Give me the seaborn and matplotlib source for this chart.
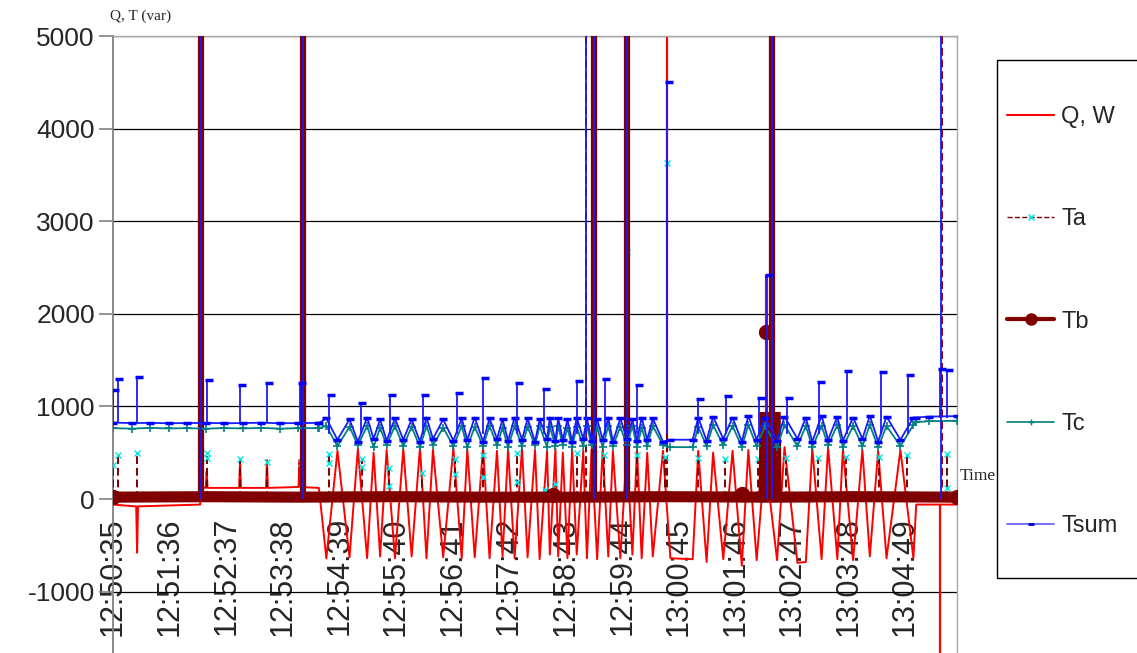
import matplotlib
matplotlib.use('Agg')
import matplotlib.pyplot as plt
from matplotlib.lines import Line2D
from matplotlib.patches import Rectangle
import seaborn as sns

# time in seconds from 12:50:35
tick_secs = [0, 61, 122, 183, 244, 305, 366, 427, 488, 549, 610, 671, 732, 793, 854]
tick_labels = ['12:50:35', '12:51:36', '12:52:37', '12:53:38', '12:54:39', '12:55:40',
               '12:56:41', '12:57:42', '12:58:43', '12:59:44', '13:00:45', '13:01:46',
               '13:02:47', '13:03:48', '13:04:49']

# quiet start (before the pump cycling)
t_pre = [0, 20, 40, 60, 80, 100, 120, 140, 160, 180, 200, 221]
tc_pre = [765, 760, 768, 762, 765, 760, 766, 762, 768, 760, 765, 765]
tsum_pre = [825, 820, 822, 818, 820, 822, 818, 820, 824, 818, 820, 822]

t_q_pre = [0, 25, 26, 27, 60, 94, 95, 100, 101, 102, 136, 137, 138, 165, 166, 167, 200, 201, 202, 221]
q_pre = [-60, -80, -580, -80, -70, -60, 130, 120, 300, 120, 120, 420, 120, 120, 420, 120, 130, 420, 130, 120]

# oscillating part: turning points of Q
t_osc = [222, 230, 242, 255, 264, 274, 281, 288, 295, 304, 313, 322, 331, 338, 345, 356, 367, 376, 382, 390,
         399, 406, 414, 420, 426, 433, 441, 447, 455, 460, 468, 471, 477, 480, 485, 490, 495, 500, 507, 511,
         516, 522, 528, 534, 539, 547, 554, 560, 565, 570, 576, 582, 593, 601, 625, 631, 640, 647, 658, 668,
         678, 685, 694, 703, 716, 724, 738, 747, 754, 764, 771, 781, 787, 798, 808, 816, 825, 834, 849, 863,
         866]
q_osc = [120, -640, 520, -630, 540, -640, 500, -620, 530, -640, 540, -620, 560, -640, 530, -630, 550, -640, 540, -630,
         560, -640, 520, -620, 540, -640, 550, -630, 530, -650, 520, -600, 540, -620, 500, -640, 540, -600, 520, -640,
         530, -650, 540, -620, 520, -640, 530, -600, 540, -640, 500, -620, 520, -640, -650, 520, -680, 500, -650, 520,
         -720, 530, -660, 450, -660, 560, -690, -680, 550, -650, 560, -650, 540, -660, 530, -620, 520, -640, 530, -640,
         -60]
tc_osc = [765, 790, 570, 780, 580, 790, 560, 770, 580, 790, 570, 780, 560, 790, 580, 770, 570, 790, 560, 780,
          570, 790, 580, 770, 560, 790, 570, 780, 580, 790, 560, 780, 570, 790, 580, 770, 560, 780, 570, 790,
          580, 770, 560, 790, 570, 780, 580, 790, 560, 770, 570, 790, 580, 560, 560, 780, 570, 800, 580, 790,
          560, 800, 570, 790, 560, 800, 570, 790, 560, 790, 580, 800, 560, 790, 570, 800, 560, 790, 570, 800,
          830]
tsum_osc = [820, 870, 640, 860, 620, 880, 650, 860, 630, 870, 640, 860, 620, 880, 650, 860, 630, 870, 640, 880,
            620, 870, 650, 860, 630, 880, 640, 870, 620, 860, 650, 880, 630, 870, 640, 860, 620, 880, 650, 870,
            630, 860, 640, 880, 620, 870, 650, 860, 630, 880, 640, 870, 620, 640, 640, 880, 630, 890, 650, 880,
            620, 900, 640, 880, 630, 890, 650, 880, 620, 900, 640, 890, 630, 880, 650, 900, 620, 890, 640, 880,
            880]

t_post = [880, 910]
q_post = [-60, -60]
tc_post = [840, 845]
tsum_post = [890, 895]

tb_t = [0, 100, 200, 300, 400, 500, 600, 702, 703, 714, 715, 800, 910]
tb_v = [20, 25, 20, 25, 20, 20, 25, 20, 880, 880, 20, 25, 20]
tb_mark_t = [0, 474, 678, 704, 910]
tb_mark_v = [20, 40, 55, 1800, 20]

ta_t = [0, 910]
ta_v = [0, 0]

# single-sample spikes
q_spike_t = [597, 704, 892]
q_spike_from = [520, 450, -60]
q_spike_to = [8000, 2420, -2500]

ta_spike_t = [0, 5, 26, 101, 137, 166, 203, 233, 268, 298, 333, 369, 399, 436, 466, 477, 500, 510, 529, 554,
              565, 595, 597, 631, 660, 695, 726, 760, 790, 826, 856, 894, 899]
ta_spike_to = [370, 475, 500, 500, 430, 400, 390, 485, 430, 330, 280, 430, 475, 500, 100, 160, 500, 8000, 475, 2670,
               475, 455, 3630, 440, 430, 430, 440, 440, 455, 455, 475, 8000, 485]
ta_extra_t = [101, 233, 268, 298, 369, 399, 436, 554, 899]
ta_extra_v = [440, 390, 350, 140, 270, 240, 180, 150, 120]

tb_spike_t = [95, 205, 519, 554, 711]
tb_spike_to = [8000, 8000, 8000, 8000, 8000]

ts_spike_t = [0, 5, 26, 95, 101, 137, 166, 202, 205, 233, 267, 299, 334, 371, 399, 436, 465, 500, 510, 519,
              530, 554, 565, 597, 631, 661, 697, 705, 711, 727, 761, 791, 828, 857, 892, 893, 899]
ts_spike_from = [820, 820, 820, 0, 820, 820, 820, 820, 0, 700, 700, 700, 700, 700, 700, 700, 700, 700, 700, 0,
                 700, 0, 700, 700, 700, 700, 700, 0, 0, 700, 700, 700, 700, 700, 880, 0, 880]
ts_spike_to = [1180, 1300, 1320, 8000, 1290, 1230, 1250, 1250, 8000, 1120, 1040, 1120, 1120, 1140, 1310, 1250, 1190, 1270, 8000, 8000,
               1300, 8000, 1230, 4500, 1080, 1110, 1090, 2420, 8000, 1090, 1260, 1380, 1370, 1340, 1400, 8000, 1390]

C_Q = '#ff0000'
C_AB = '#800000'
C_TC = '#008080'
C_TS = '#1a1aff'

sns.set_style('white')
plt.rcParams['font.family'] = ['Liberation Sans', 'DejaVu Sans']
plt.rcParams['axes.unicode_minus'] = False

fig = plt.figure(figsize=(11.37, 6.53), dpi=100)
ax = fig.add_axes([113 / 1137, 0, 844 / 1137, 617 / 653])

q_t = t_q_pre + t_osc + t_post
q_v = q_pre + q_osc + q_post
tc_t = t_pre + t_osc + t_post
tc_v = tc_pre + tc_osc + tc_post
tsum_v = tsum_pre + tsum_osc + tsum_post

# Q
sns.lineplot(x=q_t, y=q_v, ax=ax, color=C_Q, lw=1.4, estimator=None, sort=False, zorder=2)
ax.vlines(q_spike_t, q_spike_from, q_spike_to, color=C_Q, lw=1.6, zorder=2)

# Ta
sns.lineplot(x=ta_t, y=ta_v, ax=ax, color=C_AB, lw=1.2, ls='--', estimator=None, zorder=3)
ax.vlines(ta_spike_t, 0, ta_spike_to, color=C_AB, lw=1.4, linestyles=(0, (4, 2)), zorder=3)
small = [(t, v) for t, v in zip(ta_spike_t, ta_spike_to) if v < 5000]
ax.plot([s[0] for s in small], [s[1] for s in small], ls='none', marker='x', ms=4, mew=1, color='#00e5e5', zorder=3)
ax.plot(ta_extra_t, ta_extra_v, ls='none', marker='x', ms=4, mew=1, color='#00e5e5', zorder=3)

# Tb
sns.lineplot(x=tb_t, y=tb_v, ax=ax, color=C_AB, lw=8, estimator=None, sort=False, zorder=4,
             solid_capstyle='round', solid_joinstyle='miter')
ax.vlines(tb_spike_t, 0, tb_spike_to, color=C_AB, lw=4.5, zorder=4)
ax.plot(tb_mark_t, tb_mark_v, ls='none', marker='o', ms=10, color=C_AB, zorder=4)

# Tc
sns.lineplot(x=tc_t, y=tc_v, ax=ax, color=C_TC, lw=1.3, marker='+', ms=6, mew=1.2,
             markeredgecolor=C_TC, estimator=None, sort=False, zorder=5)

# Tsum
sns.lineplot(x=tc_t, y=tsum_v, ax=ax, color=C_TS, lw=1.3, marker='_', ms=6, mew=2.5,
             markeredgecolor='#0000ff', estimator=None, sort=False, zorder=6)
ax.vlines(ts_spike_t, ts_spike_from, ts_spike_to, color=C_TS, lw=1.3, zorder=6)
tops = [(t, v) for t, v in zip(ts_spike_t, ts_spike_to) if v < 5000]
ax.plot([s[0] + 2 for s in tops], [s[1] for s in tops], ls='none', marker='_', ms=6, mew=2.5, color='#0000ff', zorder=6)

# category axis crosses at 0, labels hang below it
ax.spines['bottom'].set_position(('data', 0))
ax.spines['bottom'].set_visible(False)
ax.set_xlim(0, 910)
ax.set_ylim(-1663, 5000)
ax.set_yticks(range(-1000, 5001, 1000))
ax.tick_params(axis='y', labelsize=19, length=10, width=1.2, color='#808080', pad=3, direction='out', left=True)
ax.set_xticks(tick_secs)
ax.set_xticklabels(tick_labels, rotation=90, fontsize=22)
ax.tick_params(axis='x', length=0, pad=13)
ax.spines['left'].set_color('#808080')
ax.spines['left'].set_linewidth(1.3)
for side in ['top', 'right']:
    ax.spines[side].set_color('#a8a8a8')
    ax.spines[side].set_linewidth(1.0)
ax.yaxis.grid(True, color='black', lw=0.9)
ax.xaxis.grid(False)
ax.set_axisbelow(True)
ax.set_xlabel('')
ax.set_ylabel('')

fig.text(110 / 1137, 1 - 16 / 653, 'Q, T (var)', family='Liberation Serif', fontsize=11, va='center', ha='left')
fig.text(960 / 1137, 1 - 476 / 653, 'Time', family='Liberation Serif', fontsize=12.5, va='center', ha='left')

handles = [
    Line2D([], [], color=C_Q, lw=1.5),
    Line2D([], [], color=C_AB, lw=1, ls='--', marker='x', ms=4, mec='#00e5e5'),
    Line2D([], [], color=C_AB, lw=3, marker='o', ms=8),
    Line2D([], [], color=C_TC, lw=1.2, marker='+', ms=5),
    Line2D([], [], color='#5a5aff', lw=1.2, marker='_', ms=4, mew=2, mec='#0000cc'),
]
labels = ['Q, W', 'Ta', 'Tb', 'Tc', 'Tsum']
fig.legend(handles, labels, loc='upper left', bbox_to_anchor=(1007 / 1137, 1 - 106 / 653),
           frameon=False, fontsize=17, handlelength=2.0, handletextpad=0.3,
           labelspacing=3.4, borderpad=0, borderaxespad=0)
fig.patches.append(Rectangle((997 / 1137, 1 - 578 / 653), 0.2, 518 / 653, transform=fig.transFigure,
                             fill=False, edgecolor='black', lw=1.0))

fig.savefig('out.png', dpi=100)
